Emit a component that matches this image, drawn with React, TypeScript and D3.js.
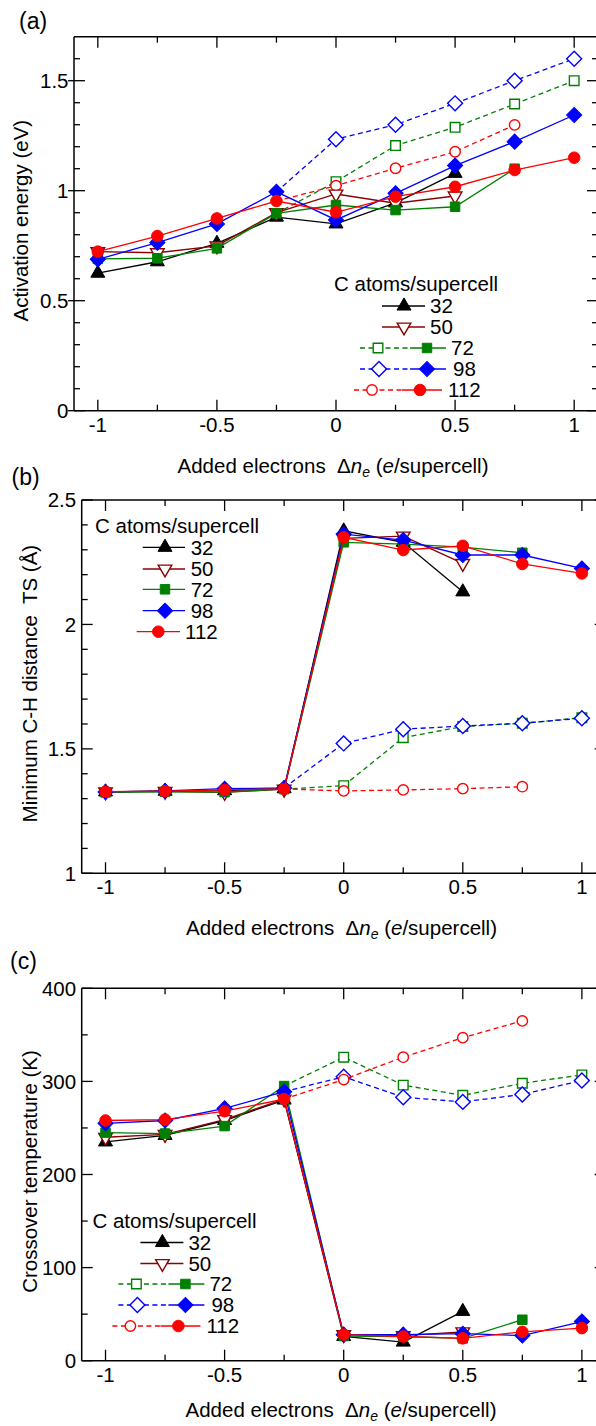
import React from 'react';
import * as d3 from 'd3';

const FONT = '"Liberation Sans", Arial, Helvetica, sans-serif';

// ---------------- data ----------------
const X_VALUES = [-1, -0.75, -0.5, -0.25, 0, 0.25, 0.5, 0.75, 1];
const X_DASHED = [-0.25, 0, 0.25, 0.5, 0.75, 1];
const SIZES = ['32', '50', '72', '98', '112'];
const COLORS = ['#000000', '#8B0000', '#008000', '#0000FF', '#FF0000'];
const SHAPES = ['tri', 'triDown', 'square', 'diamond', 'circle'];

const X_MAJOR = [-1, -0.5, 0, 0.5, 1];
const X_MAJOR_LABELS = ['-1', '-0.5', '0', '0.5', '1'];
const X_MINOR = [-0.75, -0.25, 0.25, 0.75];

// (a) activation energy (eV)
const ACT_32 = [0.625, 0.677, 0.761, 0.88, 0.849, 0.945, 1.079];
const ACT_50 = [0.723, 0.718, 0.749, 0.9, 0.985, 0.943, 0.976];
const ACT_72 = [0.69, 0.693, 0.738, 0.897, 0.935, 0.912, 0.927, 1.1];
const ACT_98 = [0.688, 0.764, 0.849, 0.995, 0.867, 0.988, 1.114, 1.223, 1.344];
const ACT_112 = [0.723, 0.794, 0.874, 0.953, 0.902, 0.973, 1.018, 1.094, 1.15];
const ACT_72_DASH = [0.897, 1.041, 1.205, 1.288, 1.394, 1.5];
const ACT_98_DASH = [0.995, 1.234, 1.3, 1.397, 1.5, 1.6];
const ACT_112_DASH = [0.953, 1.023, 1.102, 1.177, 1.299];
const ACT_Y_MAJOR = [0, 0.5, 1, 1.5];
const ACT_Y_LABELS = ['0', '0.5', '1', '1.5'];
const ACT_Y_MINOR = [0.1, 0.2, 0.3, 0.4, 0.6, 0.7, 0.8, 0.9, 1.1, 1.2, 1.3, 1.4, 1.6];

// (b) minimum C-H distance TS (Å)
const DIST_32 = [1.327, 1.33, 1.332, 1.34, 2.376, 2.33, 2.131];
const DIST_50 = [1.327, 1.329, 1.325, 1.338, 2.346, 2.355, 2.245];
const DIST_72 = [1.325, 1.327, 1.326, 1.338, 2.33, 2.323, 2.311, 2.288];
const DIST_98 = [1.327, 1.331, 1.34, 1.343, 2.363, 2.339, 2.279, 2.279, 2.225];
const DIST_112 = [1.328, 1.33, 1.335, 1.339, 2.35, 2.299, 2.316, 2.243, 2.205];
const DIST_72_DASH = [1.338, 1.352, 1.545, 1.59, 1.603, 1.625];
const DIST_98_DASH = [1.343, 1.522, 1.579, 1.592, 1.603, 1.623];
const DIST_112_DASH = [1.339, 1.331, 1.335, 1.34, 1.348];
const DIST_Y_MAJOR = [1, 1.5, 2, 2.5];
const DIST_Y_LABELS = ['1', '1.5', '2', '2.5'];
const DIST_Y_MINOR = [1.1, 1.2, 1.3, 1.4, 1.6, 1.7, 1.8, 1.9, 2.1, 2.2, 2.3, 2.4];

// (c) crossover temperature (K)
const TEMP_32 = [235, 242, 258, 280, 26, 20, 53];
const TEMP_50 = [240, 243, 259, 281, 28, 27, 31];
const TEMP_72 = [245, 244, 252, 295, 26.5, 26, 24, 44];
const TEMP_98 = [255, 258, 271, 289, 28, 28, 29, 27, 42];
const TEMP_112 = [258, 259, 268, 281, 28, 26, 24, 31, 35];
const TEMP_72_DASH = [295, 326, 296, 285, 298, 307];
const TEMP_98_DASH = [289, 305, 283, 278, 286, 301];
const TEMP_112_DASH = [281, 302, 326, 347, 365];
const TEMP_Y_MAJOR = [0, 100, 200, 300, 400];
const TEMP_Y_LABELS = ['0', '100', '200', '300', '400'];
const TEMP_Y_MINOR = [50, 150, 250, 350];

// ---------------- helpers ----------------
const FILLED_SIZE: Record<string, number> = { tri: 85, triDown: 80, square: 90, diamond: 115, circle: 105 };
const OPEN_SIZE: Record<string, number> = { tri: 80, triDown: 80, square: 92, diamond: 112, circle: 85 };

function symbolPath(shape: string, size: number): string {
  const gen = d3.symbol();
  if (shape === 'tri' || shape === 'triDown') return gen.type(d3.symbolTriangle).size(size)() as string;
  if (shape === 'circle') return gen.type(d3.symbolCircle).size(size)() as string;
  return gen.type(d3.symbolSquare).size(size)() as string;
}
function symbolRot(shape: string) {
  return shape === 'triDown' ? 180 : shape === 'diamond' ? 45 : 0;
}

function Marker({ cx, cy, shape, color, open }: { cx: number; cy: number; shape: string; color: string; open: boolean }) {
  const size = open ? OPEN_SIZE[shape] : FILLED_SIZE[shape];
  return (
    <path
      d={symbolPath(shape, size)}
      transform={`translate(${cx},${cy}) rotate(${symbolRot(shape)})`}
      fill={open ? '#fff' : color}
      stroke={color}
      strokeWidth={open ? 1.4 : 1}
    />
  );
}

interface SeriesDef { values: number[]; idx: number; }
interface LegendRow { idx: number; kind: 'single' | 'pair'; open?: boolean; y: number; l0: number; l1: number; m: number; d0?: number; d1?: number; mo?: number; tx: number; }
interface PanelCfg {
  label: string; labelX: number; labelY: number;
  left: number; right: number; top: number; bottom: number;
  yDomain: [number, number];
  yMajor: number[]; yLabels: string[]; yMinor: number[];
  yTitle: string; yTitleX: number;
  xTitleX: number; xTitleY: number;
  outwardY: boolean;
  solid: SeriesDef[]; dashed: SeriesDef[];
  legendTitle: { x: number; y: number };
  legend: LegendRow[];
}

const DASH = '5,3.5';
const LW = 1.3;

function Panel({ cfg }: { cfg: PanelCfg }) {
  const x = d3.scaleLinear().domain([-1.1, 1.1]).range([cfg.left, cfg.right]);
  const y = d3.scaleLinear().domain(cfg.yDomain).range([cfg.bottom, cfg.top]);
  const line = d3.line<[number, number]>().x((d) => x(d[0])).y((d) => y(d[1]));
  const MAJ = 11;
  const MIN = 6;
  const fs = 20.5;

  const solidPts = (s: SeriesDef) => s.values.map((v, i) => [X_VALUES[i], v] as [number, number]);
  const dashPts = (s: SeriesDef) => s.values.map((v, i) => [X_DASHED[i], v] as [number, number]);

  return (
    <g fontFamily={FONT}>
      <text x={cfg.labelX} y={cfg.labelY} fontSize={23}>{cfg.label}</text>
      <g stroke="#000" strokeWidth={1.5} fill="none">
        <line x1={cfg.left} x2={cfg.right} y1={cfg.bottom} y2={cfg.bottom} />
        <line x1={cfg.left} x2={cfg.right} y1={cfg.top} y2={cfg.top} />
        <line x1={cfg.left} x2={cfg.left} y1={cfg.top} y2={cfg.bottom} />
        <line x1={cfg.right} x2={cfg.right} y1={cfg.top} y2={cfg.bottom} />
      </g>
      <g stroke="#000" strokeWidth={1.3}>
        {X_MAJOR.map((t) => (
          <g key={'xM' + t}>
            <line x1={x(t)} x2={x(t)} y1={cfg.bottom} y2={cfg.bottom - MAJ} />
            <line x1={x(t)} x2={x(t)} y1={cfg.top} y2={cfg.top + MAJ} />
          </g>
        ))}
        {X_MINOR.map((t) => (
          <g key={'xm' + t}>
            <line x1={x(t)} x2={x(t)} y1={cfg.bottom} y2={cfg.bottom - MIN} />
            <line x1={x(t)} x2={x(t)} y1={cfg.top} y2={cfg.top + MIN} />
          </g>
        ))}
        {cfg.yMajor.map((t) => (
          <g key={'yM' + t}>
            <line x1={cfg.left - (cfg.outwardY ? 6 : 0)} x2={cfg.left + MAJ} y1={y(t)} y2={y(t)} />
            <line x1={cfg.right} x2={cfg.right - MAJ} y1={y(t)} y2={y(t)} />
          </g>
        ))}
        {cfg.yMinor.map((t) => (
          <g key={'ym' + t}>
            <line x1={cfg.left} x2={cfg.left + MIN} y1={y(t)} y2={y(t)} />
            <line x1={cfg.right} x2={cfg.right - MIN} y1={y(t)} y2={y(t)} />
          </g>
        ))}
      </g>
      {X_MAJOR.map((t, i) => (
        <text key={'xl' + t} x={x(t)} y={cfg.bottom + 21} fontSize={fs} textAnchor="middle">{X_MAJOR_LABELS[i]}</text>
      ))}
      {cfg.yMajor.map((t, i) => (
        <text key={'yl' + t} x={cfg.left - 5.5} y={y(t)} dy="0.36em" fontSize={fs} textAnchor="end">{cfg.yLabels[i]}</text>
      ))}
      <text
        transform={`translate(${cfg.yTitleX},${(cfg.top + cfg.bottom) / 2 - 3}) rotate(-90)`}
        fontSize={fs}
        textAnchor="middle"
        style={{ whiteSpace: 'pre' }}
      >
        {cfg.yTitle}
      </text>
      <text x={cfg.xTitleX} y={cfg.xTitleY} fontSize={fs} textAnchor="middle" style={{ whiteSpace: 'pre' }}>
        {'Added electrons  \u0394'}
        <tspan fontStyle="italic">n</tspan>
        <tspan fontStyle="italic" fontSize={14} dy={4}>e</tspan>
        <tspan dy={-4}>{' ('}</tspan>
        <tspan fontStyle="italic">e</tspan>
        <tspan>/supercell)</tspan>
      </text>
      {cfg.dashed.map((s) => (
        <g key={'d' + s.idx}>
          <path d={line(dashPts(s)) as string} fill="none" stroke={COLORS[s.idx]} strokeWidth={LW} strokeDasharray={DASH} />
          {dashPts(s).slice(1).map((p, i) => (
            <Marker key={i} cx={x(p[0])} cy={y(p[1])} shape={SHAPES[s.idx]} color={COLORS[s.idx]} open={true} />
          ))}
        </g>
      ))}
      {cfg.solid.map((s) => (
        <g key={'s' + s.idx}>
          <path d={line(solidPts(s)) as string} fill="none" stroke={COLORS[s.idx]} strokeWidth={LW} />
          {solidPts(s).map((p, i) => (
            <Marker key={i} cx={x(p[0])} cy={y(p[1])} shape={SHAPES[s.idx]} color={COLORS[s.idx]} open={s.idx === 1} />
          ))}
        </g>
      ))}
      <text x={cfg.legendTitle.x} y={cfg.legendTitle.y} fontSize={fs}>C atoms/supercell</text>
      {cfg.legend.map((r) => (
        <g key={'lg' + r.idx}>
          {r.kind === 'pair' && (
            <>
              <line x1={r.d0} x2={r.d1} y1={r.y} y2={r.y} stroke={COLORS[r.idx]} strokeWidth={LW} strokeDasharray={DASH} />
              <Marker cx={r.mo as number} cy={r.y} shape={SHAPES[r.idx]} color={COLORS[r.idx]} open={true} />
            </>
          )}
          <line x1={r.l0} x2={r.l1} y1={r.y} y2={r.y} stroke={COLORS[r.idx]} strokeWidth={LW} />
          <Marker cx={r.m} cy={r.y} shape={SHAPES[r.idx]} color={COLORS[r.idx]} open={!!r.open} />
          <text x={r.tx} y={r.y} dy="0.36em" fontSize={fs}>{SIZES[r.idx]}</text>
        </g>
      ))}
    </g>
  );
}

function mixedLegend(tx: number, rowsY: number[]): LegendRow[] {
  return [
    { idx: 0, kind: 'single', y: rowsY[0], l0: tx + 48, l1: tx + 91, m: tx + 70, tx: tx + 96 },
    { idx: 1, kind: 'single', open: true, y: rowsY[1], l0: tx + 48, l1: tx + 91, m: tx + 70, tx: tx + 96 },
    { idx: 2, kind: 'pair', y: rowsY[2], d0: tx + 26, d1: tx + 76, mo: tx + 44, l0: tx + 76, l1: tx + 112, m: tx + 93, tx: tx + 117 },
    { idx: 3, kind: 'pair', y: rowsY[3], d0: tx + 26, d1: tx + 76, mo: tx + 45, l0: tx + 76, l1: tx + 112, m: tx + 93, tx: tx + 119 },
    { idx: 4, kind: 'pair', y: rowsY[4], d0: tx + 20, d1: tx + 68, mo: tx + 38, l0: tx + 68, l1: tx + 108, m: tx + 86, tx: tx + 114 },
  ];
}

const panelA: PanelCfg = {
  label: '(a)', labelX: 19, labelY: 29,
  left: 74, right: 598, top: 36.7, bottom: 410.7,
  yDomain: [0, 1.7], yMajor: ACT_Y_MAJOR, yLabels: ACT_Y_LABELS, yMinor: ACT_Y_MINOR,
  yTitle: 'Activation energy (eV)', yTitleX: 28,
  xTitleX: 333, xTitleY: 473, outwardY: true,
  solid: [
    { values: ACT_32, idx: 0 }, { values: ACT_50, idx: 1 }, { values: ACT_72, idx: 2 },
    { values: ACT_98, idx: 3 }, { values: ACT_112, idx: 4 },
  ],
  dashed: [{ values: ACT_72_DASH, idx: 2 }, { values: ACT_98_DASH, idx: 3 }, { values: ACT_112_DASH, idx: 4 }],
  legendTitle: { x: 334, y: 291 },
  legend: mixedLegend(334, [306, 327, 348, 369, 390]),
};

const panelB: PanelCfg = {
  label: '(b)', labelX: 11.5, labelY: 485,
  left: 81.7, right: 605.7, top: 500, bottom: 873.3,
  yDomain: [1, 2.5], yMajor: DIST_Y_MAJOR, yLabels: DIST_Y_LABELS, yMinor: DIST_Y_MINOR,
  yTitle: 'Minimum C-H distance  TS (\u00C5)', yTitleX: 37,
  xTitleX: 341.5, xTitleY: 935, outwardY: false,
  solid: [
    { values: DIST_32, idx: 0 }, { values: DIST_50, idx: 1 }, { values: DIST_72, idx: 2 },
    { values: DIST_98, idx: 3 }, { values: DIST_112, idx: 4 },
  ],
  dashed: [{ values: DIST_72_DASH, idx: 2 }, { values: DIST_98_DASH, idx: 3 }, { values: DIST_112_DASH, idx: 4 }],
  legendTitle: { x: 95, y: 533 },
  legend: [
    { idx: 0, kind: 'single', y: 547.3, l0: 142.7, l1: 185, m: 165, tx: 190.7 },
    { idx: 1, kind: 'single', open: true, y: 569, l0: 142.7, l1: 185, m: 165, tx: 190.7 },
    { idx: 2, kind: 'single', y: 589.3, l0: 142.7, l1: 185, m: 165, tx: 190.7 },
    { idx: 3, kind: 'single', y: 610.7, l0: 142.7, l1: 185, m: 165, tx: 190.7 },
    { idx: 4, kind: 'single', y: 631.7, l0: 136.7, l1: 180, m: 158.3, tx: 185 },
  ],
};

const panelC: PanelCfg = {
  label: '(c)', labelX: 10, labelY: 968.5,
  left: 81.7, right: 605.7, top: 988.3, bottom: 1360.7,
  yDomain: [0, 400], yMajor: TEMP_Y_MAJOR, yLabels: TEMP_Y_LABELS, yMinor: TEMP_Y_MINOR,
  yTitle: 'Crossover temperature (K)', yTitleX: 37,
  xTitleX: 341, xTitleY: 1417, outwardY: false,
  solid: [
    { values: TEMP_32, idx: 0 }, { values: TEMP_50, idx: 1 }, { values: TEMP_72, idx: 2 },
    { values: TEMP_98, idx: 3 }, { values: TEMP_112, idx: 4 },
  ],
  dashed: [{ values: TEMP_72_DASH, idx: 2 }, { values: TEMP_98_DASH, idx: 3 }, { values: TEMP_112_DASH, idx: 4 }],
  legendTitle: { x: 92.4, y: 1227.5 },
  legend: mixedLegend(92.4, [1242.5, 1263.5, 1284, 1305, 1326]),
};

export default function App() {
  return (
    <div style={{ position: 'absolute', left: 0, top: 0 }}>
      <svg width={596} height={1426} style={{ display: 'block', background: '#fff' }}>
        <rect width={596} height={1426} fill="#fff" />
        <Panel cfg={panelA} />
        <Panel cfg={panelB} />
        <Panel cfg={panelC} />
      </svg>
    </div>
  );
}
